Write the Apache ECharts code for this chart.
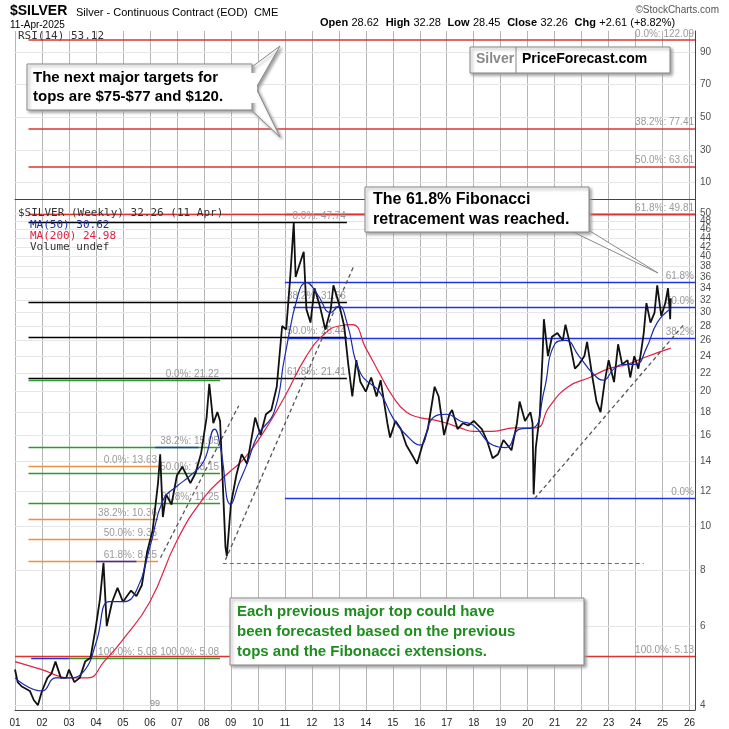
<!DOCTYPE html>
<html><head><meta charset="utf-8">
<script src="https://cdn.jsdelivr.net/npm/echarts@6/dist/echarts.min.js"></script>
<style>html,body{margin:0;padding:0;background:#fff}#c{width:729px;height:729px}</style>
</head><body><div id="c"></div>
<script>
// ---- data ----
const yearTicks = [2001,2002,2003,2004,2005,2006,2007,2008,2009,2010,2011,2012,2013,2014,2015,2016,2017,2018,2019,2020,2021,2022,2023,2024,2025,2026];
const priceTicks = [4,6,8,10,12,14,16,18,20,22,24,26,28,30,32,34,36,38,40,42,44,46,48,50];
const rsiTicks = [10,30,50,70,90];
const price = [[2001.0,4.8],[2001.1,4.5],[2001.25,4.4],[2001.4,4.35],[2001.55,4.3],[2001.7,4.1],[2001.85,4.0],[2002.0,4.3],[2002.2,4.6],[2002.35,4.7],[2002.5,5.0],[2002.7,4.6],[2002.9,4.6],[2003.0,4.8],[2003.2,4.5],[2003.4,4.6],[2003.6,5.0],[2003.8,5.1],[2004.0,6.0],[2004.15,6.9],[2004.28,8.3],[2004.4,6.0],[2004.6,6.8],[2004.8,7.3],[2005.0,6.8],[2005.3,7.2],[2005.5,7.0],[2005.7,7.4],[2005.9,8.8],[2006.1,9.8],[2006.3,12.5],[2006.38,14.5],[2006.48,10.5],[2006.6,11.8],[2006.8,11.2],[2007.0,13.0],[2007.2,13.6],[2007.5,12.5],[2007.7,13.2],[2007.9,14.6],[2008.1,17.5],[2008.2,20.8],[2008.35,17.0],[2008.5,18.0],[2008.6,17.2],[2008.7,12.5],[2008.8,9.0],[2008.85,8.6],[2009.0,11.2],[2009.2,13.0],[2009.4,14.5],[2009.6,13.8],[2009.9,17.5],[2010.1,16.0],[2010.3,17.8],[2010.5,18.2],[2010.7,20.5],[2010.9,28.0],[2011.05,27.5],[2011.2,36.0],[2011.33,47.5],[2011.4,36.0],[2011.55,38.5],[2011.7,41.0],[2011.8,30.5],[2011.95,28.5],[2012.1,34.0],[2012.3,31.0],[2012.5,27.5],[2012.7,30.5],[2012.8,34.5],[2013.0,31.5],[2013.2,28.0],[2013.35,23.0],[2013.5,19.5],[2013.65,23.5],[2013.8,21.0],[2014.0,20.0],[2014.2,21.5],[2014.4,19.5],[2014.55,21.2],[2014.8,17.0],[2014.9,15.8],[2015.1,17.2],[2015.3,16.5],[2015.5,15.2],[2015.7,14.5],[2015.9,13.8],[2016.1,15.2],[2016.3,16.5],[2016.55,20.5],[2016.7,19.5],[2016.9,16.0],[2017.1,17.8],[2017.2,18.2],[2017.4,16.5],[2017.6,17.0],[2017.8,16.8],[2018.0,17.2],[2018.3,16.5],[2018.5,15.5],[2018.7,14.2],[2018.9,14.5],[2019.1,15.6],[2019.4,14.8],[2019.6,17.0],[2019.7,19.0],[2019.9,17.2],[2020.1,18.0],[2020.18,17.0],[2020.22,11.8],[2020.3,15.0],[2020.45,17.8],[2020.55,24.0],[2020.6,29.0],[2020.75,24.0],[2020.9,26.5],[2021.1,27.0],[2021.3,26.0],[2021.4,28.2],[2021.6,25.0],[2021.75,22.5],[2021.9,23.0],[2022.1,24.0],[2022.2,25.8],[2022.4,21.5],[2022.55,19.0],[2022.7,18.0],[2022.85,21.0],[2023.0,23.5],[2023.2,21.0],[2023.35,25.5],[2023.5,23.0],[2023.7,23.5],[2023.8,21.5],[2023.95,24.0],[2024.1,22.5],[2024.2,24.5],[2024.3,27.0],[2024.4,31.5],[2024.55,28.5],[2024.7,30.0],[2024.8,34.5],[2024.95,29.5],[2025.1,31.5],[2025.2,34.0],[2025.26,30.5],[2025.28,29.0],[2025.3,32.3]];
const ma50 = [[2001,4.6],[2002,4.3],[2002.5,4.6],[2003,4.6],[2003.6,4.8],[2004,5.5],[2004.5,6.8],[2005,6.8],[2005.5,7.2],[2006,9],[2006.5,11.5],[2007,12.3],[2007.5,13],[2008,14],[2008.4,16.5],[2008.6,15.2],[2009,11.2],[2009.3,12.5],[2009.6,13.8],[2010,16],[2010.6,18],[2011,24],[2011.5,33],[2011.8,35],[2012.2,33],[2012.7,30],[2013,31],[2013.3,28.5],[2013.8,22],[2014.5,20],[2015,17.5],[2015.5,16],[2016,15.2],[2016.5,17.5],[2017,17.8],[2017.5,17.2],[2018,16.8],[2018.7,15.2],[2019.2,15],[2019.7,16.5],[2020.2,16.6],[2020.6,20],[2021,25.5],[2021.4,26],[2021.9,24],[2022.4,22],[2022.8,21.2],[2023.2,22.5],[2023.6,23],[2024,23],[2024.4,25],[2024.8,28.5],[2025.3,30.6]];
const ma200 = [[2001,5],[2002,4.8],[2003,4.6],[2003.7,4.6],[2004.3,5.0],[2005,5.6],[2006,6.8],[2007,9.3],[2008,11.6],[2008.8,13],[2009.5,14.2],[2010.2,16.2],[2011,19.5],[2011.8,24],[2012.5,27],[2013,28],[2013.5,28.2],[2014,25],[2014.5,22],[2015,19.5],[2015.5,18],[2016,17.5],[2016.5,17.3],[2017,17],[2017.5,16.6],[2018,16.3],[2018.7,16.3],[2019.5,16.6],[2020.3,16.6],[2020.8,18.5],[2021.5,20.5],[2022.3,21.5],[2023,22.5],[2023.7,23],[2024.3,23.8],[2025.3,25]];
// fib levels: [label, value, fromYear, toYear, color]
const fibPrice = [
 ['0.0%: 47.74',47.74,2001.5,2013.3,'#000'],['38.2%: 31.66',31.66,2001.5,2013.3,'#000'],['50.0%: 26.44',26.44,2001.5,2013.3,'#000'],['61.8%: 21.41',21.41,2001.5,2013.3,'#000'],
 ['0.0%: 21.22',21.22,2001.5,2008.6,'#2a9a2a'],['38.2%: 15.05',15.05,2001.5,2008.6,'#2a9a2a'],['50.0%: 13.15',13.15,2001.5,2008.6,'#2a9a2a'],['61.8%: 11.25',11.25,2001.5,2008.6,'#2a9a2a'],
 ['0.0%: 13.63',13.63,2001.5,2006.3,'#f0903c'],['38.2%: 10.36',10.36,2001.5,2006.3,'#f0903c'],['50.0%: 9.35',9.35,2001.5,2006.3,'#f0903c'],['61.8%: 8.35',8.35,2001.5,2006.3,'#f0903c'],
 ['',15.05,2006.2,2007.8,'#2233dd'],['',8.35,2004.0,2005.5,'#2233dd'],['',5.08,2001.6,2003.0,'#2233dd'],
 ['100.0%: 5.08',5.08,2003.0,2006.3,'#2a9a2a'],['100.0%: 5.08',5.08,2006.3,2008.6,'#2a9a2a'],
 ['61.8%: 49.81',49.81,2011.0,2026.2,'#2233dd'],['61.8%',35.1,2011.0,2026.2,'#2233dd'],['50.0%',30.8,2011.3,2026.2,'#2233dd'],['38.2%',26.3,2011.1,2026.2,'#2233dd'],['0.0%',11.55,2011.0,2026.2,'#2233dd'],
 ['100.0%: 5.13',5.13,2001.0,2026.2,'#dd3333'],['',49.81,2001.5,2026.2,'#dd3333']
];
const fibTop = [['0.0%: 122.09',122.09],['38.2%: 77.41',77.41],['50.0%: 63.61',63.61]];
const trends = [[[2006.39,8.52],[2009.29,18.6]],[[2008.80,8.43],[2013.57,38.3]],[[2020.26,11.55],[2025.76,28.1]]];
const supportDash = [[2008.7,8.3],[2024.3,8.3]];

// ---- chart ----
const X0=2001, X1=2026.2;
const ch = echarts.init(document.getElementById('c'));
const grey = '#9a9a9a';
function lvlLine(l){
  return [{coord:[l[2],l[1]],lineStyle:{color:l[4],width:1.3,type:'solid'},
    label:{show:!!l[0],formatter:l[0],position:'insideEndTop',color:grey,fontSize:10,distance:1}},
    {coord:[l[3],l[1]]}];
}
const tickLbl = (vals, xi, yi, fmt) => ({type:'scatter',xAxisIndex:xi,yAxisIndex:yi,symbolSize:0,silent:true,clip:false,
  data:vals.map(v=>[X1,v]),label:{show:true,position:'right',distance:5,color:'#222',fontSize:10,fontFamily:'Liberation Sans',formatter:p=>fmt(p.value[1])},z:10});
const shadow = {shadowBlur:3,shadowColor:'#999',shadowOffsetX:2,shadowOffsetY:2};
const G = (o)=>Object.assign({z:100},o);
ch.setOption({
  animation:false,
  textStyle:{fontFamily:'Liberation Sans'},
  grid:[{left:15,right:34,top:31,height:179},{left:15,right:34,top:210,height:500}],
  xAxis:[
    {type:'value',gridIndex:0,min:X0,max:X1,interval:1,axisLabel:{show:false},axisTick:{show:false},axisLine:{lineStyle:{color:'#444'}},splitLine:{lineStyle:{color:'#b5b5b5'}}},
    {type:'value',gridIndex:1,min:X0,max:X1,interval:1,axisLine:{lineStyle:{color:'#444'}},axisTick:{show:false},splitLine:{lineStyle:{color:'#b5b5b5'}},
     axisLabel:{color:'#222',fontSize:10,formatter:v=>String(Math.round(v)%100).padStart(2,'0')}}
  ],
  yAxis:[
    {type:'value',gridIndex:0,min:-6.7,max:102.8,axisLabel:{show:false},axisTick:{show:false},splitLine:{show:false},axisLine:{show:true,onZero:false,lineStyle:{color:'#444'}},position:'right'},
    {type:'log',gridIndex:0,min:50.8,max:128,show:false},
    {type:'log',gridIndex:1,min:3.9,max:50.8,position:'right',axisLabel:{show:false},axisTick:{show:false},splitLine:{show:false},axisLine:{show:true,lineStyle:{color:'#444'}}}
  ],
  series:[
    {type:'line',xAxisIndex:0,yAxisIndex:0,data:[],markLine:{symbol:'none',silent:true,label:{show:false},lineStyle:{color:'#e6e6e6',type:'solid',width:1},data:rsiTicks.map(v=>({yAxis:v}))}},
    {type:'line',xAxisIndex:1,yAxisIndex:2,data:[],markLine:{symbol:'none',silent:true,label:{show:false},lineStyle:{color:'#e6e6e6',type:'solid',width:1},data:priceTicks.map(v=>({yAxis:v}))}},
    tickLbl(rsiTicks,0,0,v=>v),
    tickLbl(priceTicks,1,2,v=>v),
    {type:'line',xAxisIndex:0,yAxisIndex:1,data:[],markLine:{symbol:'none',silent:true,z:5,
      data:fibTop.map(l=>[{coord:[2001.5,l[1]],lineStyle:{color:'#dd3333',width:1.5,type:'solid'},label:{show:true,formatter:l[0],position:'insideEndTop',color:grey,fontSize:10,distance:1}},{coord:[X1,l[1]]}])}},
    {type:'line',xAxisIndex:1,yAxisIndex:2,data:[],markLine:{symbol:'none',silent:true,z:5,data:fibPrice.map(lvlLine).concat(
       trends.map(t=>[{coord:t[0],lineStyle:{color:'#555',type:[4,3],width:1.3},label:{show:false}},{coord:t[1]}]),
       [[{coord:supportDash[0],lineStyle:{color:'#2a9a2a',type:[4,3],width:1.2},label:{show:false}},{coord:supportDash[1]}]])}},
    {name:'MA200',type:'line',xAxisIndex:1,yAxisIndex:2,data:ma200,smooth:true,showSymbol:false,lineStyle:{color:'#dd2244',width:1.2},z:6},
    {name:'Price',type:'line',xAxisIndex:1,yAxisIndex:2,data:price,showSymbol:false,lineStyle:{color:'#111',width:1.8},z:7},
    {name:'MA50',type:'line',xAxisIndex:1,yAxisIndex:2,data:ma50,smooth:true,showSymbol:false,lineStyle:{color:'#1a2aa8',width:1.2},z:8}
  ],
  graphic:[
    {type:'rect',z:90,shape:{x:0,y:0,width:729,height:28},style:{fill:'#fff'}},
    G({type:'text',left:10,top:4,style:{text:'$SILVER',font:'bold 14px Liberation Sans',fill:'#000'}}),
    G({type:'text',left:76,top:7,style:{text:'Silver - Continuous Contract (EOD)  CME',font:'11px Liberation Sans',fill:'#000'}}),
    G({type:'text',left:10,top:20,style:{text:'11-Apr-2025',font:'10px Liberation Sans',fill:'#000'}}),
    G({type:'text',right:10,top:5,style:{text:'©StockCharts.com',font:'10px Liberation Sans',fill:'#555'}}),
    G({type:'text',left:320,top:17,style:{rich:{b:{font:'bold 11px Liberation Sans',fill:'#000'},n:{font:'11px Liberation Sans',fill:'#000'}},
      text:'{b|Open} {n|28.62}  {b|High} {n|32.28}  {b|Low} {n|28.45}  {b|Close} {n|32.26}  {b|Chg} {n|+2.61 (+8.82%)}'}}),
    G({type:'text',left:18,top:31,style:{text:'RSI(14) 53.12',font:'11px DejaVu Sans Mono',fill:'#333'}}),
    G({type:'text',left:18,top:208,style:{text:'$SILVER (Weekly) 32.26 (11 Apr)',font:'11px DejaVu Sans Mono',fill:'#333'}}),
    G({type:'text',left:30,top:220,style:{text:'MA(50) 30.62',font:'11px DejaVu Sans Mono',fill:'#1a2aa8'}}),
    G({type:'text',left:30,top:231,style:{text:'MA(200) 24.98',font:'11px DejaVu Sans Mono',fill:'#dd2244'}}),
    G({type:'text',left:30,top:242,style:{text:'Volume undef',font:'11px DejaVu Sans Mono',fill:'#333'}}),
    G({type:'text',left:150,top:699,style:{text:'99',font:'9px Liberation Sans',fill:'#888'}}),
    G({type:'rect',shape:{x:470,y:47,width:200,height:26},style:Object.assign({fill:'#fff',stroke:'#888',lineWidth:1},shadow)}),
    G({type:'line',shape:{x1:516,y1:47,x2:516,y2:73},style:{stroke:'#888'}}),
    G({type:'text',left:476,top:52,style:{text:'Silver',font:'bold 14px Liberation Sans',fill:'#888'}}),
    G({type:'text',left:522,top:52,style:{text:'PriceForecast.com',font:'bold 14px Liberation Sans',fill:'#000'}}),
    G({type:'polygon',shape:{points:[[245,72],[280,46],[256,88],[280,137],[245,104]]},style:Object.assign({fill:'#fff',stroke:'#888',lineWidth:1},shadow)}),
    G({type:'rect',shape:{x:27,y:64,width:225,height:46},style:Object.assign({fill:'#fff',stroke:'#888',lineWidth:1},shadow)}),
    G({type:'rect',shape:{x:244,y:73,width:13,height:30},style:{fill:'#fff'}}),
    G({type:'text',left:33,top:68,style:{text:'The next major targets for\ntops are $75-$77 and $120.',font:'bold 15px Liberation Sans',fill:'#000',lineHeight:19}}),
    G({type:'polygon',shape:{points:[[565,228],[658,273],[585,228]]},style:{fill:'#fff',stroke:'#888',lineWidth:1}}),
    G({type:'rect',shape:{x:365,y:187,width:224,height:45},style:Object.assign({fill:'#fff',stroke:'#888',lineWidth:1},shadow)}),
    G({type:'rect',shape:{x:566,y:226,width:18,height:5},style:{fill:'#fff'}}),
    G({type:'text',left:373,top:190,style:{text:'The 61.8% Fibonacci\nretracement was reached.',font:'bold 16px Liberation Sans',fill:'#000',lineHeight:20}}),
    G({type:'rect',shape:{x:230,y:598,width:354,height:67},style:Object.assign({fill:'#fff',stroke:'#888',lineWidth:1},shadow)}),
    G({type:'text',left:237,top:602,style:{text:'Each previous major top could have\nbeen forecasted based on the previous\ntops and the Fibonacci extensions.',font:'bold 15px Liberation Sans',fill:'#1e8c1e',lineHeight:20}})
  ]
});
</script></body></html>
